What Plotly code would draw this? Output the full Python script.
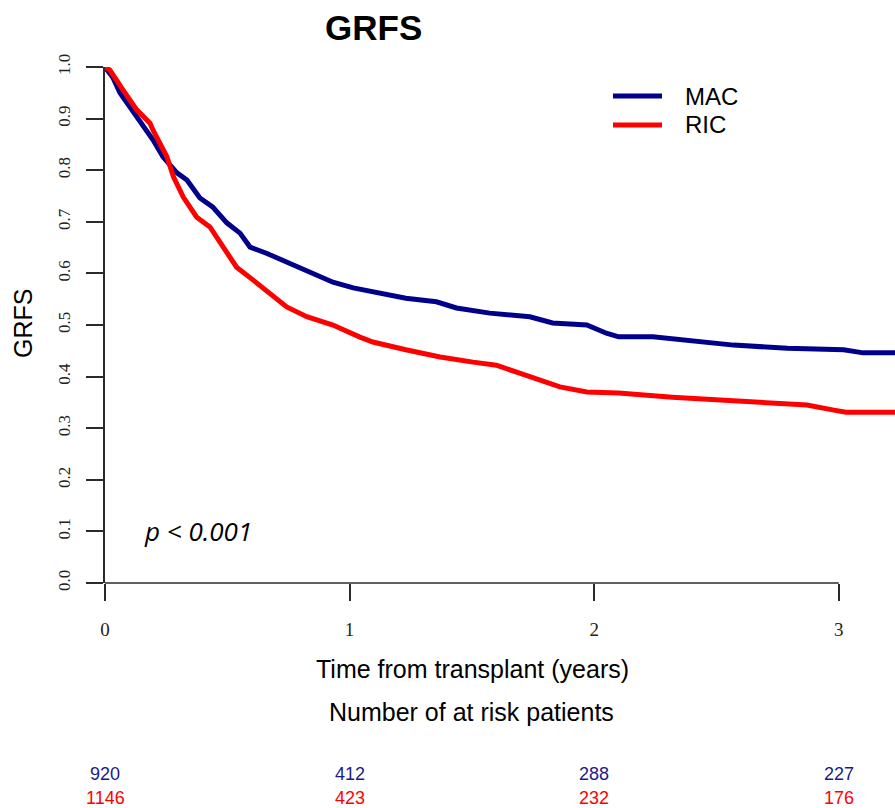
import plotly.graph_objects as go

# survival curves (years, GRFS probability)
mac_t = [0, 0.033, 0.061, 0.11, 0.196, 0.237, 0.294, 0.335, 0.388, 0.44, 0.498, 0.552, 0.593,
         0.66, 0.743, 0.825, 0.932, 1.015, 1.095, 1.23, 1.355, 1.437, 1.573, 1.737, 1.83,
         1.97, 2.05, 2.1, 2.24, 2.36, 2.46, 2.57, 2.79, 3.02, 3.1, 3.23]
mac_s = [1.0, 0.979, 0.95, 0.917, 0.859, 0.826, 0.795, 0.781, 0.746, 0.729, 0.698, 0.678, 0.651,
         0.639, 0.622, 0.603, 0.583, 0.572, 0.564, 0.552, 0.545, 0.533, 0.523, 0.516, 0.504,
         0.5, 0.484, 0.477, 0.477, 0.471, 0.465, 0.461, 0.455, 0.452, 0.446, 0.446]

ric_t = [0, 0.02, 0.074, 0.13, 0.184, 0.196, 0.253, 0.28, 0.32, 0.375, 0.429, 0.482, 0.538,
         0.606, 0.688, 0.743, 0.825, 0.932, 1.04, 1.095, 1.23, 1.37, 1.505, 1.6, 1.68, 1.75,
         1.86, 1.97, 2.1, 2.32, 2.5, 2.71, 2.87, 2.98, 3.03, 3.23]
ric_s = [1.0, 0.994, 0.955, 0.917, 0.891, 0.878, 0.826, 0.787, 0.748, 0.709, 0.69, 0.651, 0.612,
         0.587, 0.554, 0.535, 0.516, 0.5, 0.477, 0.467, 0.452, 0.438, 0.428, 0.422, 0.409, 0.397,
         0.38, 0.37, 0.368, 0.36, 0.355, 0.349, 0.345, 0.335, 0.331, 0.331]

risk_times = [0, 1, 2, 3]
risk_mac = [920, 412, 288, 227]
risk_ric = [1146, 423, 232, 176]

y_ticks = [0.0, 0.1, 0.2, 0.3, 0.4, 0.5, 0.6, 0.7, 0.8, 0.9, 1.0]
x_ticks = [0, 1, 2, 3]

BLUE = '#00008B'
RED = '#FF0000'
X_MAX = 3.23

W, H = 895, 808
L, R, T, B = 105, 0, 67, 225


def px(x, y):
    # pixel position -> paper coords
    return (x - L) / (W - L - R), (H - B - y) / (H - T - B)


fig = go.Figure()
fig.add_trace(go.Scatter(x=mac_t, y=mac_s, mode='lines', name='MAC',
                         line=dict(color=BLUE, width=5)))
fig.add_trace(go.Scatter(x=ric_t, y=ric_s, mode='lines', name='RIC',
                         line=dict(color=RED, width=5)))

axis_col = '#2a2a2a'
fig.update_xaxes(range=[0, X_MAX], tickvals=x_ticks, ticktext=[str(v) for v in x_ticks],
                 ticks='outside', ticklen=17, tickwidth=1.5, tickcolor=axis_col,
                 showline=False, showgrid=False, zeroline=False, ticklabelstandoff=12,
                 tickfont=dict(family='Liberation Serif', size=19, color='#222'))
fig.update_yaxes(range=[0, 1], tickvals=y_ticks, ticktext=['%.1f' % v for v in y_ticks],
                 ticks='outside', ticklen=17, tickwidth=1.5, tickcolor=axis_col,
                 showline=True, linecolor=axis_col, linewidth=1.5,
                 showgrid=False, zeroline=False, tickangle=-90, ticklabelstandoff=9,
                 tickfont=dict(family='Liberation Serif', size=17, color='#222'))

# x axis line only spans 0..3 like base R
fig.add_shape(type='line', xref='paper', yref='paper', x0=0, x1=3 / X_MAX, y0=0, y1=0,
              line=dict(color=axis_col, width=1.5))

ann = []


def text(x, y, s, size, family='Liberation Sans', xanchor='center', **kw):
    xp, yp = px(x, y)
    d = dict(x=xp, y=yp, xref='paper', yref='paper', text=s, showarrow=False,
             xanchor=xanchor, yanchor='middle',
             font=dict(family=family, size=size, color='black'))
    d.update(kw)
    ann.append(d)


text(373.5, 27, '<b>GRFS</b>', 35)
text(23, 324, 'GRFS', 25, textangle=-90)
text(472, 669, 'Time from transplant (years)', 25)
text(471.5, 712, 'Number of at risk patients', 25)
text(197.5, 531, '<i>p < 0.001</i>', 26, family='Open Sans')

# legend drawn by hand (R style)
for name, col, yy in [('MAC', BLUE, 96), ('RIC', RED, 125)]:
    x0, y0 = px(613, yy)
    x1, _ = px(662, yy)
    fig.add_shape(type='line', xref='paper', yref='paper', x0=x0, x1=x1, y0=y0, y1=y0,
                  line=dict(color=col, width=5))
    text(683, yy, name, 24, xanchor='left')

# numbers at risk under the axis
for row, col, yy in [(risk_mac, '#1a1a8c', 773.5), (risk_ric, RED, 798)]:
    for t, n in zip(risk_times, row):
        ann.append(dict(x=t, y=px(0, yy)[1], xref='x', yref='paper', text=str(n),
                        showarrow=False, xanchor='center', yanchor='middle',
                        font=dict(family='Liberation Sans', size=18, color=col)))

fig.update_layout(width=W, height=H, margin=dict(l=L, r=R, t=T, b=B),
                  plot_bgcolor='white', paper_bgcolor='white', showlegend=False,
                  annotations=ann)

fig.write_html("out.html", config={'displayModeBar': False},
               post_script="document.body.style.margin='0px';")
